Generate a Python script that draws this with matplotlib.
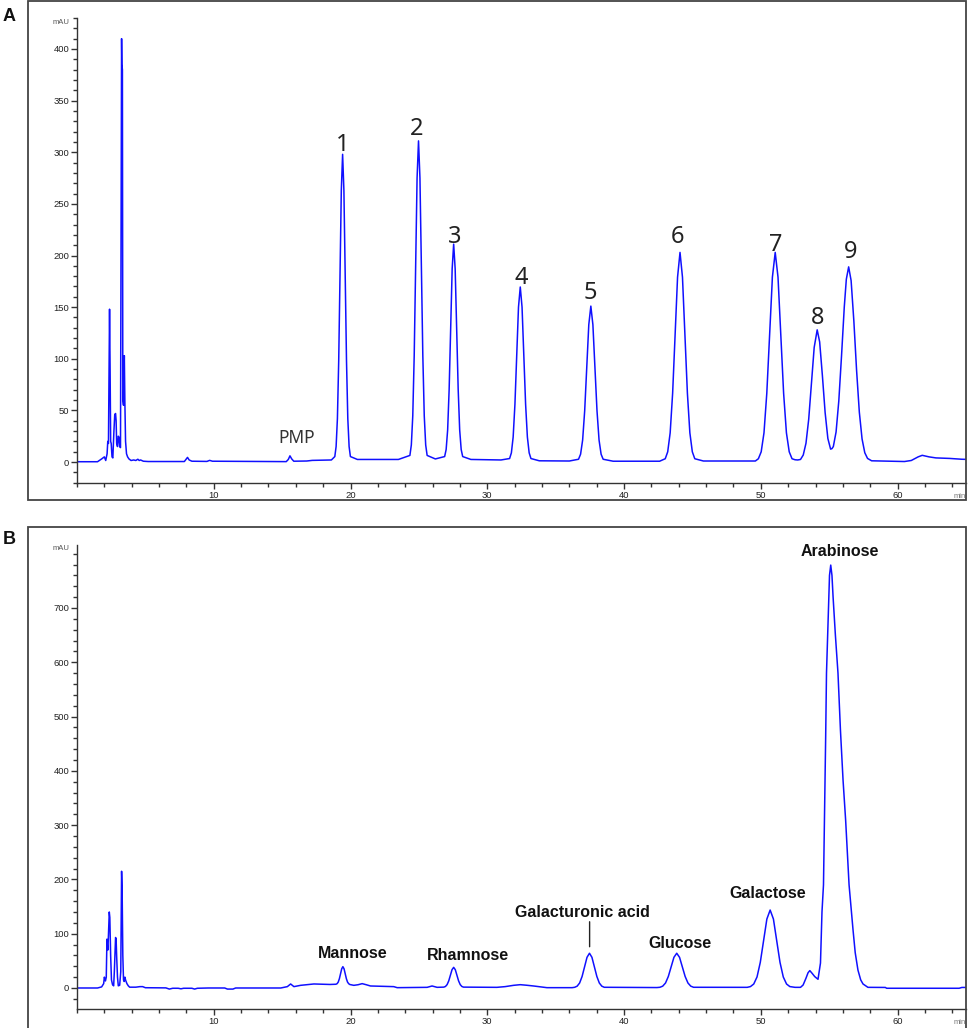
import matplotlib
matplotlib.use("Agg")
import matplotlib.pyplot as plt
from matplotlib.ticker import MultipleLocator, FixedLocator
from matplotlib.patches import Rectangle

# ---------------- data: panel A (standard mixture) ----------------
time_a = [
    0.0, 1.5, 1.8, 2.0, 2.1, 2.2, 2.25, 2.3, 2.34, 2.38,
    2.42, 2.46, 2.5, 2.56, 2.62, 2.7, 2.76, 2.82, 2.86, 2.9,
    2.96, 3.02, 3.07, 3.12, 3.18, 3.22, 3.26, 3.28, 3.32, 3.35,
    3.4, 3.46, 3.5, 3.55, 3.62, 3.7, 3.8, 3.95, 4.15, 4.3,
    4.45, 4.55, 4.65, 4.85, 5.2,
    7.85, 8.0, 8.08, 8.2, 8.4, 9.5, 9.7, 9.9, 15.3, 15.45, 15.57, 15.7, 15.85, 16.8, 17.2, 18.6,
    18.85, 18.945, 19.04, 19.135, 19.23, 19.325, 19.42, 19.515, 19.61, 19.705, 19.8, 19.895, 19.99, 20.5, 23.5,
    24.34, 24.445, 24.55, 24.655, 24.76, 24.865, 24.97, 25.075, 25.18, 25.285, 25.39, 25.495, 25.6, 26.2,
    26.88, 26.99, 27.1, 27.21, 27.32, 27.43, 27.54, 27.65, 27.76, 27.87, 27.98, 28.09, 28.2, 28.8, 31.0,
    31.63, 31.76, 31.89, 32.02, 32.15, 32.28, 32.41, 32.54, 32.67, 32.8, 32.93, 33.06, 33.19, 33.8, 36.0,
    36.67, 36.82, 36.97, 37.12, 37.27, 37.42, 37.57, 37.72, 37.87, 38.02, 38.17, 38.32, 38.47, 39.2, 42.6,
    43.01, 43.19, 43.37, 43.55, 43.73, 43.91, 44.09, 44.27, 44.45, 44.63, 44.81, 44.99, 45.17, 45.8, 49.6,
    49.82, 50.025, 50.23, 50.435, 50.64, 50.845, 51.05, 51.255, 51.46, 51.665, 51.87, 52.075, 52.28, 52.5,
    52.7, 52.9, 53.1, 53.3, 53.5, 53.7, 53.9, 54.12, 54.3, 54.5, 54.7, 54.9, 55.1, 55.2, 55.3,
    55.5, 55.7, 55.9, 56.1, 56.25, 56.42, 56.6, 56.8, 57.0, 57.2, 57.4, 57.6, 57.8, 58.1,
    60.5, 61.0, 61.5, 61.8, 62.3, 62.8, 63.8, 64.7, 65.0,
]
mau_a = [
    0.3, 0.3, 3, 5, 1.5, 8, 20, 18, 80, 148,
    90, 20, 18, 5, 4, 30, 46, 47, 40, 18,
    15, 25, 24, 15, 14, 200, 410, 385, 380, 60,
    55, 103, 58, 20, 8, 5, 3, 1.5, 2.0, 1.5,
    2.7, 1.5, 2.0, 0.8, 0.5,
    0.5, 3.0, 4.5, 2.0, 0.8, 0.6, 1.6, 0.8, 0.4, 2.5, 6.0, 3.0, 0.8, 1.0, 1.6, 2.0,
    5.3, 15, 42, 98, 181, 263, 298, 263, 181, 98, 42, 15, 5.3, 2.5, 2.5,
    6.4, 16.5, 44.7, 103, 190, 275, 311, 275, 190, 103, 44.7, 16.5, 6.4, 3.0,
    5.3, 12.1, 31.1, 70.5, 129, 187, 211, 187, 129, 70.5, 31.1, 12.1, 5.3, 2.5, 2.0,
    3.4, 8.9, 24.2, 56, 103, 150, 169.5, 150, 103, 56, 24.2, 8.9, 3.4, 1.2, 1.0,
    2.7, 7.6, 21.3, 49.7, 92, 133, 151, 133, 92, 49.7, 21.3, 7.6, 2.7, 0.8, 0.8,
    3.2, 9.9, 28.3, 66.6, 123.5, 179, 203, 179, 123.5, 66.6, 28.3, 9.9, 3.2, 1.0, 1.0,
    3.2, 9.9, 28.3, 66.6, 123.5, 179, 203, 179, 123.5, 66.6, 28.3, 9.9, 3.2, 2.2,
    2.0, 2.5, 6.8, 18.2, 41.5, 76.1, 111, 128, 116.3, 83.7, 47.9, 22.8, 12.5, 13.0, 15.0,
    29.1, 59.2, 103, 150.1, 177, 189, 175.7, 136.6, 88.8, 48.4, 22.4, 9.0, 3.5, 1.2,
    0.5, 1.5, 5.0, 6.5, 5.0, 4.0, 3.5, 2.7, 2.6,
]

peak_names_a = ["1", "2", "3", "4", "5", "6", "7", "8", "9"]
peak_label_time_a = [19.42, 24.82, 27.59, 32.48, 37.52, 43.94, 51.09, 54.16, 56.57]
peak_label_mau_a = [301, 317, 212, 172, 158, 212, 204, 134, 198]
pmp_label = ("PMP", 16.09, 18.4)

# ---------------- data: panel B (sample) ----------------
time_b = [
    0.0, 1.5, 1.8, 1.95, 2.0, 2.08, 2.14, 2.19, 2.23, 2.26,
    2.3, 2.36, 2.4, 2.46, 2.52, 2.6, 2.68, 2.73, 2.77, 2.82,
    2.86, 2.9, 2.96, 3.02, 3.12, 3.2, 3.26, 3.3, 3.35, 3.4,
    3.45, 3.5, 3.56, 3.65, 3.75, 3.85, 4.3, 4.6, 4.8, 5.0,
    6.5, 6.75, 7.0, 7.4, 7.6, 7.8, 8.4, 8.6, 8.8, 9.6, 10.8, 11.0, 11.4, 11.6,
    14.9, 15.38, 15.62, 15.86, 16.35, 17.32, 18.5,
    18.93, 19.015, 19.1, 19.185, 19.27, 19.355, 19.44, 19.525, 19.61, 19.695, 19.78, 19.865, 19.95,
    20.24, 20.55, 20.85, 21.15, 21.46, 23.16, 23.41, 25.6, 25.96, 26.33,
    26.82, 26.94, 27.06, 27.18, 27.3, 27.42, 27.54, 27.66, 27.78, 27.9, 28.02, 28.14, 28.26,
    30.7, 31.3, 31.92, 32.41, 32.9, 33.38, 34.36, 36.2,
    36.39, 36.57, 36.75, 36.93, 37.11, 37.29, 37.47, 37.65, 37.83, 38.01, 38.19, 38.37, 38.55, 42.4,
    42.62, 42.825, 43.03, 43.235, 43.44, 43.645, 43.85, 44.055, 44.26, 44.465, 44.67, 44.875, 45.08, 49.0,
    49.24, 49.48, 49.72, 49.96, 50.2, 50.44, 50.68, 50.92, 51.16, 51.4, 51.64, 51.88, 52.12,
    52.5, 52.9, 53.09, 53.3, 53.45, 53.58, 53.75, 53.94, 54.18,
    54.36, 54.47, 54.58, 54.65, 54.74, 54.8, 54.93, 55.02, 55.11, 55.2, 55.28, 55.45, 55.64,
    55.82, 56.01, 56.2, 56.45, 56.74, 56.9, 57.1, 57.3, 57.47, 57.83, 59.1, 59.2, 64.5, 64.7, 65.0,
]
mau_b = [
    0, 0, 2, 8, 20, 13, 20, 90, 75, 70,
    100, 140, 130, 60, 15, 6, 4, 30, 60, 93,
    90, 58, 20, 4, 5, 30, 215, 180, 60, 15,
    12, 20, 14, 8, 4, 1.5, 1.5, 2.5, 2.5, 0.5,
    0.2, -2, -0.5, -0.5, -1.5, -0.5, -0.5, -2, -0.5, 0, 0, -2, -2, 0,
    0, 2.5, 7.4, 2.5, 4.9, 7.4, 6.5,
    6.9, 7.9, 10.9, 17.2, 26.4, 35.4, 39.3, 35.4, 26.4, 17.2, 10.9, 7.9, 6.4,
    4.9, 6.0, 8.0, 6.0, 3.7, 2.5, 0.6, 1.2, 3.7, 1.2,
    1.6, 2.8, 6.2, 13.1, 23.5, 33.7, 38, 33.7, 23.5, 13.1, 6.2, 2.8, 1.6,
    1.2, 2.5, 4.9, 6.1, 5.0, 3.7, 0.6, 0.6,
    1.3, 3.4, 9.2, 21.2, 39.1, 56.5, 64, 56.5, 39.1, 21.2, 9.2, 3.4, 1.3, 0.8,
    1.3, 3.4, 9.2, 21.2, 39.1, 56.5, 64, 56.5, 39.1, 21.2, 9.2, 3.4, 1.3, 1.2,
    2.6, 7.3, 20.3, 47.3, 87.5, 127, 143.6, 127, 87.5, 47.3, 20.3, 7.3, 2.6,
    1.2, 1.2, 5.5, 18, 28, 32, 27, 21, 16,
    46, 140, 190, 309, 463, 580, 690, 760, 779, 760, 721, 650, 580,
    475, 383, 309, 190, 107, 65, 33, 15, 7.4, 1.2, 1.0, -0.5, -0.5, 1.0, 1.0,
]

sugar_names_b = ["Mannose", "Rhamnose", "Galacturonic acid", "Glucose", "Galactose", "Arabinose"]
sugar_label_time_b = [20.15, 28.58, 36.97, 44.09, 50.5, 55.77]
sugar_label_mau_b = [55.8, 51.6, 131.3, 74.2, 165.7, 795.6]
galA_leader = (37.48, 122, 76)

x_major_a = [10, 20, 30, 40, 50, 60]
y_major_a = [0, 50, 100, 150, 200, 250, 300, 350, 400]
y_major_b = [0, 100, 200, 300, 400, 500, 600, 700]

assert len(time_a) == len(mau_a)
assert len(time_b) == len(mau_b)

# ---------------- figure ----------------
W, H = 969, 1028
fig = plt.figure(figsize=(W / 100, H / 100), dpi=100)
TICK_FONT = ["Liberation Sans", "DejaVu Sans"]
LINE_COLOR = "#1010ff"


def fx(px):
    return px / W


def fy(py):
    return 1 - py / H


def style_axis(ax, ylim, ymajor, yminor):
    ax.set_xlim(0, 65)
    ax.set_ylim(*ylim)
    for s in ("top", "right"):
        ax.spines[s].set_visible(False)
    for s in ("left", "bottom"):
        ax.spines[s].set_color("#333333")
        ax.spines[s].set_linewidth(1.0)
    ax.xaxis.set_major_locator(FixedLocator(x_major_a))
    ax.xaxis.set_minor_locator(MultipleLocator(2))
    ax.yaxis.set_major_locator(FixedLocator(ymajor))
    ax.yaxis.set_minor_locator(MultipleLocator(yminor))
    ax.tick_params(axis="both", which="major", direction="out", length=4, width=1.0,
                   color="#333333", labelsize=6.8, labelcolor="#222222", pad=1.5)
    ax.tick_params(axis="both", which="minor", direction="out", length=3, width=1.0,
                   color="#333333")
    for lab in ax.get_xticklabels() + ax.get_yticklabels():
        lab.set_family(TICK_FONT)
    ax.patch.set_alpha(0)


# Panel A
ax_a = fig.add_axes([fx(77), fy(483), fx(966 - 77), (483 - 18) / H])
ax_a.plot(time_a, mau_a, color=LINE_COLOR, lw=1.1, solid_joinstyle="round")
style_axis(ax_a, (-20.3, 430), y_major_a, 10)
for name, t, v in zip(peak_names_a, peak_label_time_a, peak_label_mau_a):
    ax_a.text(t, v, name, ha="center", va="baseline", fontsize=17,
              family=["Noto Sans", "DejaVu Sans"], color="#222222")
ax_a.text(pmp_label[1], pmp_label[2], pmp_label[0], ha="center", va="baseline",
          fontsize=12.5, family=["Noto Sans", "DejaVu Sans"], color="#333333")

# Panel B
ax_b = fig.add_axes([fx(77), fy(1009), fx(966 - 77), (1009 - 545) / H])
ax_b.plot(time_b, mau_b, color=LINE_COLOR, lw=1.1, solid_joinstyle="round")
style_axis(ax_b, (-38.7, 816), y_major_b, 20)
for name, t, v in zip(sugar_names_b, sugar_label_time_b, sugar_label_mau_b):
    ax_b.text(t, v, name, ha="center", va="baseline", fontsize=11.5, fontweight="bold",
              family=["Liberation Sans", "DejaVu Sans"], color="#111111")
ax_b.annotate("", xy=(galA_leader[0], galA_leader[2]), xytext=(galA_leader[0], galA_leader[1]),
              arrowprops=dict(arrowstyle="-", lw=1.0, color="#222222", shrinkA=0, shrinkB=0))

# unit labels
for py_mau, py_min in ((23, 496), (549, 1022)):
    fig.text(fx(69), fy(py_mau), "mAU", ha="right", va="center", fontsize=5.5,
             family=TICK_FONT, color="#555555")
    fig.text(fx(954), fy(py_min), "min", ha="left", va="center", fontsize=5.5,
             family=TICK_FONT, color="#777777")

# outer frames
fig.add_artist(Rectangle((fx(28), fy(500)), fx(966 - 28), (500 - 1.5) / H,
                         transform=fig.transFigure, fill=False, lw=1.3, ec="#444444"))
fig.add_artist(Rectangle((fx(28), -0.01), fx(966 - 28), fy(527) + 0.01,
                         transform=fig.transFigure, fill=False, lw=1.3, ec="#444444"))

# panel letters
fig.text(fx(9.5), fy(16.5), "A", ha="center", va="center", fontsize=13, fontweight="bold",
         family=TICK_FONT, color="#111111")
fig.text(fx(9.5), fy(540), "B", ha="center", va="center", fontsize=13, fontweight="bold",
         family=TICK_FONT, color="#111111")

fig.savefig("out.png", dpi=100)
